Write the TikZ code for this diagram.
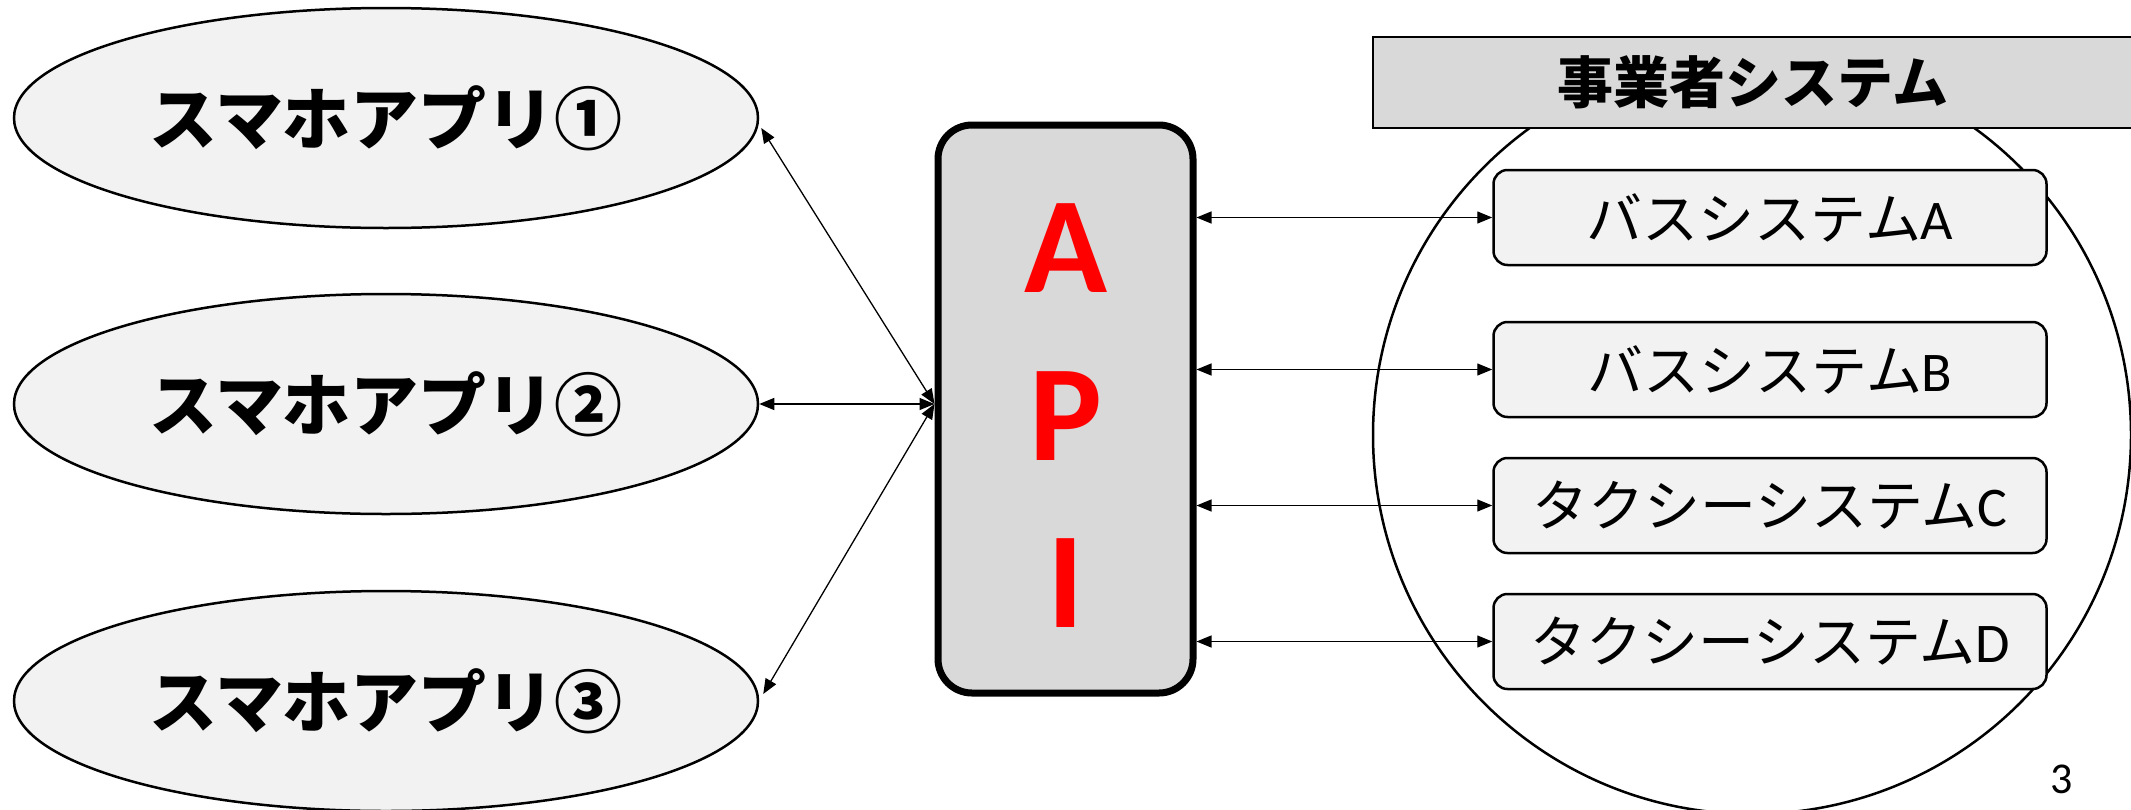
\documentclass[tikz,border=0pt]{standalone}
\usepackage{fontspec}
\setmainfont{Carlito}
\newfontfamily\jp{Noto Sans CJK JP}
\usetikzlibrary{shapes.geometric,arrows.meta,calc}
\definecolor{lightfill}{HTML}{F2F2F2}
\definecolor{midfill}{HTML}{D9D9D9}
\definecolor{apired}{HTML}{FF0000}
\tikzset{
  appnode/.style={ellipse,draw=black,line width=2.5pt,fill=lightfill,minimum width=744pt,minimum height=220pt,inner sep=0pt,font=\jp\bfseries\fontsize{68}{68}\selectfont},
  sysbox/.style={rectangle,rounded corners=14pt,draw=black,line width=2.5pt,fill=lightfill,minimum width=553pt,minimum height=95pt,inner sep=0pt,font=\fontsize{56}{56}\selectfont},
  apibox/.style={rectangle,rounded corners=34pt,draw=black,line width=7pt,fill=midfill,minimum width=255pt,minimum height=568pt,inner sep=0pt},
  apiletter/.style={text=apired,font=\bfseries\fontsize{137}{137}\selectfont,inner sep=0pt},
  headbox/.style={rectangle,draw=black,line width=2pt,fill=midfill,minimum width=760pt,minimum height=91pt,inner sep=0pt,font=\jp\bfseries\fontsize{56}{56}\selectfont},
  groupcircle/.style={circle,draw=black,line width=2.5pt,minimum size=758pt,inner sep=0pt},
  biarrow/.style={{Triangle[length=15pt,width=12pt]}-{Triangle[length=15pt,width=12pt]},line width=1.3pt}
}
\begin{document}
\begin{tikzpicture}[x=1pt,y=-1pt]
\useasboundingbox (0,0) rectangle (2131,809);
\clip (0,0) rectangle (2131,809);
\fill[white] (0,0) rectangle (2131,809);
% group circle
\node[groupcircle] (grp) at (1752,435) {};
% header
\node[headbox] (head) at (1753,82.5) {事業者システム};
% apps
\node[appnode] (e1) at (386,118) {スマホアプリ①};
\node[appnode] (e2) at (386,404) {スマホアプリ②};
\node[appnode] (e3) at (386,701) {スマホアプリ③};
% API
\node[apibox] (api) at (1065.5,409) {};
\coordinate (hub) at ($(api.west)+(0,-5)$);
\node[apiletter] (la) at (1065.5,248) {A};
\node[apiletter] (lp) at (1065.5,416) {P};
\node[apiletter] (li) at (1065.5,583) {I};
% systems
\node[sysbox] (bA) at (1770,217.5) {{\jp バスシステム}A};
\node[sysbox] (bB) at (1770,369.5) {{\jp バスシステム}B};
\node[sysbox] (bC) at (1770,505.5) {{\jp タクシーシステム}C};
\node[sysbox] (bD) at (1770,641.5) {{\jp タクシーシステム}D};
% connectors left
\draw[biarrow] ($(e1.east)+(2,10)$) -- (hub);
\draw[biarrow] (e2.east) -- (hub);
\draw[biarrow] ($(e3.east)+(4,-7)$) -- (hub);
% connectors right
\draw[biarrow] (api.east |- bA.west) -- (bA.west);
\draw[biarrow] (api.east |- bB.west) -- (bB.west);
\draw[biarrow] (api.east |- bC.west) -- (bC.west);
\draw[biarrow] (api.east |- bD.west) -- (bD.west);
% page number
\node[font=\fontsize{44}{44}\selectfont,inner sep=0pt] (pg) at (2062,779) {3};
\end{tikzpicture}
\end{document}
